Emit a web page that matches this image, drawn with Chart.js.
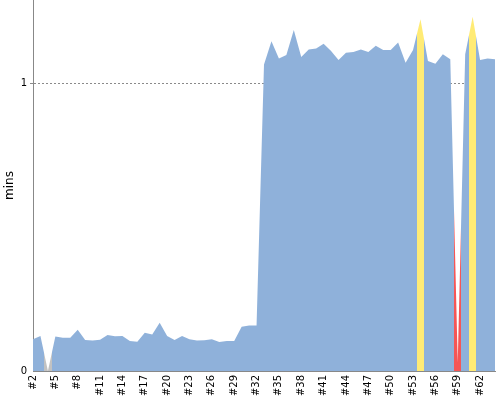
<!DOCTYPE html>
<html><head><meta charset="utf-8">
<script src="https://cdn.jsdelivr.net/npm/chart.js@4"></script>
<style>html,body{margin:0;padding:0;background:#fff}#wrap{width:500px;height:400px;position:relative}</style>
</head><body><div id="wrap"><canvas id="c"></canvas></div>
<script>
const builds = ['#2','#3','#4','#5','#6','#7','#8','#9','#10','#11','#12','#13','#14','#15','#16','#17','#18','#19','#20','#21','#22','#23','#24','#25','#26','#27','#28','#29','#30','#31','#32','#33','#34','#35','#36','#37','#38','#39','#40','#41','#42','#43','#44','#45','#46','#47','#48','#49','#50','#51','#52','#53','#54','#55','#56','#57','#58','#59','#60','#61','#62','#63','#64'];
const durations = [0.110,0.122,0.0,0.120,0.116,0.116,0.143,0.108,0.106,0.109,0.125,0.121,0.122,0.104,0.102,0.133,0.127,0.168,0.122,0.108,0.122,0.110,0.106,0.107,0.110,0.101,0.104,0.104,0.154,0.158,0.158,1.066,1.147,1.087,1.099,1.186,1.092,1.118,1.121,1.138,1.113,1.081,1.107,1.109,1.118,1.109,1.131,1.116,1.116,1.142,1.072,1.116,1.223,1.078,1.068,1.101,1.084,0.03,1.101,1.232,1.081,1.087,1.084];
const unstableBuilds = ['#54','#61'];
const failedBuilds = ['#59'];
const abortedBuilds = ['#4'];
const yTicks = [0, 1];
const yMax = 1.29;

const BLUE = '#8fb1da', YELLOW = '#ffeb75', RED = '#f55656', GRAY = '#c2c2c2';

function bandFill(ctx) {
  const chart = ctx.chart, area = chart.chartArea, xs = chart.scales && chart.scales.x;
  if (!area || !xs) return BLUE;
  const w = area.right - area.left;
  const g = chart.ctx.createLinearGradient(area.left, 0, area.right, 0);
  const step = xs.getPixelForValue(1) - xs.getPixelForValue(0);
  const bands = [];
  const add = (list, color) => list.forEach(b => {
    const px = xs.getPixelForValue(builds.indexOf(b));
    bands.push([px - step / 2, px + step / 2, color]);
  });
  add(unstableBuilds, YELLOW); add(failedBuilds, RED); add(abortedBuilds, GRAY);
  bands.sort((a, b) => a[0] - b[0]);
  const f = x => Math.min(1, Math.max(0, (x - area.left) / w));
  g.addColorStop(0, BLUE);
  bands.forEach(([x0, x1, c]) => {
    g.addColorStop(f(x0), BLUE); g.addColorStop(f(x0), c);
    g.addColorStop(f(x1), c); g.addColorStop(f(x1), BLUE);
  });
  g.addColorStop(1, BLUE);
  return g;
}

Chart.defaults.font.family = 'DejaVu Sans';
Chart.defaults.color = '#000';

new Chart(document.getElementById('c'), {
  type: 'line',
  data: {
    labels: builds,
    datasets: [{
      data: durations,
      fill: 'origin',
      backgroundColor: bandFill,
      borderWidth: 0,
      borderColor: 'rgba(0,0,0,0)',
      pointRadius: 0,
      tension: 0
    }]
  },
  options: {
    responsive: true,
    maintainAspectRatio: false,
    animation: false,
    layout: { padding: { left: 0, right: 5, top: 0, bottom: 0 }, autoPadding: false },
    plugins: { legend: { display: false }, tooltip: { enabled: false } },
    scales: {
      x: {
        offset: false,
        grid: { display: false, drawTicks: false },
        border: { display: true, color: '#888', width: 1 },
        ticks: {
          autoSkip: false, maxRotation: 90, minRotation: 90, padding: 4,
          font: { size: 10 },
          callback: (v, i) => (i % 3 === 0 ? builds[i] : '')
        },
        afterFit: s => { s.height = 29; s.paddingLeft = 0; s.paddingRight = 0; }
      },
      y: {
        min: 0, max: yMax, z: 1,
        afterBuildTicks: s => { s.ticks = yTicks.map(v => ({ value: v })); },
        grid: {
          color: c => (c.tick && c.tick.value === 1 ? '#8a8a8a' : 'rgba(0,0,0,0)'),
          tickLength: 3, tickColor: c => (c.tick && c.tick.value === 1 ? '#8a8a8a' : 'rgba(0,0,0,0)')
        },
        border: { display: true, color: '#888', width: 1, dash: [2, 2] },
        ticks: { padding: 3, font: { size: 10 }, callback: v => String(v) },
        title: { display: true, text: 'mins', font: { size: 12 }, padding: { top: 3, bottom: 0 } },
        afterFit: s => { s.width = 33; s.paddingTop = 0; s.paddingBottom = 0; }
      }
    }
  }
});
</script></body></html>
